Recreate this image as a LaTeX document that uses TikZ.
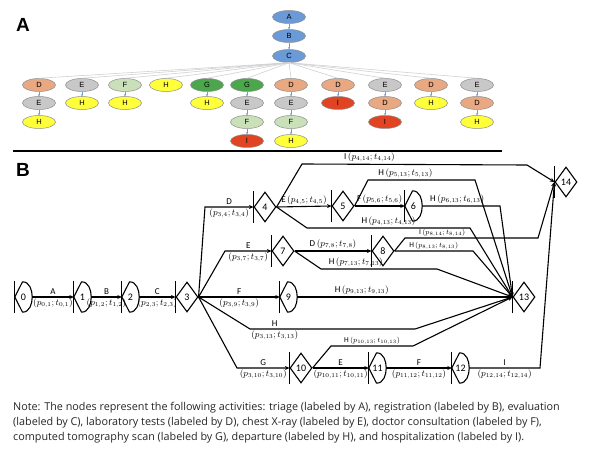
\documentclass[tikz,border=0pt]{standalone}
\usepackage{fontspec}
\setmainfont{Carlito}
\newfontfamily\noteF{Open Sans}
\newfontfamily\headF{Liberation Sans}
\usetikzlibrary{shapes.geometric,arrows.meta}
\definecolor{cblue}{HTML}{6A9BD8}
\definecolor{corange}{HTML}{E8A882}
\definecolor{cgray}{HTML}{C8C8C8}
\definecolor{clgreen}{HTML}{C9E0B8}
\definecolor{cyellow}{HTML}{FFFF3A}
\definecolor{cgreen}{HTML}{4CA64C}
\definecolor{cred}{HTML}{E04422}
\tikzset{
  t/.style={ellipse,draw=black!45,line width=0.5pt,minimum width=33pt,minimum height=13pt,inner sep=0pt,font=\headF\fontsize{7.5}{8}\selectfont},
  tb/.style={t,fill=cblue}, to/.style={t,fill=corange}, tg/.style={t,fill=cgray},
  tl/.style={t,fill=clgreen}, ty/.style={t,fill=cyellow}, tG/.style={t,fill=cgreen},
  tr/.style={t,fill=cred},
  fan/.style={draw=black!18,line width=0.6pt},
  va/.style={draw=cblue,line width=0.4pt,-{Stealth[length=2pt,width=2pt]}},
  dn/.style={diamond,draw,line width=1.1pt,minimum width=22pt,minimum height=30pt,inner sep=0pt,font=\fontsize{10}{11}\selectfont},
  ln/.style={rectangle,minimum width=17pt,minimum height=30pt,inner sep=0pt,font=\fontsize{10}{11}\selectfont},
  ed/.style={line width=1.1pt,-{Stealth[length=4.5pt,width=4pt]}},
  lb/.style={font=\fontsize{9}{10}\selectfont,inner sep=1.5pt},
  sl/.style={font=\fontsize{7.5}{8}\selectfont,inner sep=1pt}
}
\begin{document}
\begin{tikzpicture}[x=1pt,y=-1pt]
\useasboundingbox[fill=white] (0,0) rectangle (600,457);
% ---------- A
\node[font=\headF\bfseries\fontsize{19}{21}\selectfont] (labA) at (23,25) {A};
\node[tb] (A) at (289,17) {A};
\node[tb] (B) at (289,36) {B};
\node[tb] (C) at (289,56) {C};
\draw[va] (A) -- (B); \draw[va] (B) -- (C);
\node[to] (a1) at (39,85) {D}; \node[tg] (a2) at (39,103) {E}; \node[ty] (a3) at (39,122) {H};
\node[tg] (b1) at (82,85) {E}; \node[ty] (b2) at (82,103) {H};
\node[tl] (c1) at (125,85) {F}; \node[ty] (c2) at (125,103) {H};
\node[ty] (d1) at (166,85) {H};
\node[tG] (e1) at (207,85) {G}; \node[ty] (e2) at (207,103) {H};
\node[tG] (f1) at (247,85) {G}; \node[tg] (f2) at (247,103) {E}; \node[tl] (f3) at (247,122) {F}; \node[tr] (f4) at (247,141) {I};
\node[to] (g1) at (291,85) {D}; \node[tg] (g2) at (291,103) {E}; \node[tl] (g3) at (291,122) {F}; \node[ty] (g4) at (291,141) {H};
\node[to] (h1) at (338,85) {D}; \node[tr] (h2) at (338,103) {I};
\node[tg] (i1) at (385,85) {E}; \node[to] (i2) at (385,103) {D}; \node[tr] (i3) at (385,122) {I};
\node[to] (j1) at (431,85) {D}; \node[ty] (j2) at (431,103) {H};
\node[tg] (k1) at (477,85) {E}; \node[to] (k2) at (477,103) {D}; \node[ty] (k3) at (477,122) {H};
\foreach \n in {a1,b1,c1,d1,e1,f1,g1,h1,i1,j1,k1} \draw[fan] (C.south) -- (\n.north);
\foreach \p/\q in {a1/a2,a2/a3,b1/b2,c1/c2,e1/e2,f1/f2,f2/f3,f3/f4,g1/g2,g2/g3,g3/g4,h1/h2,i1/i2,i2/i3,j1/j2,k1/k2,k2/k3} \draw[va] (\p) -- (\q);
\draw[line width=1.2pt] (13,151) -- (502,151);
% ---------- B
\node[font=\headF\bfseries\fontsize{19}{21}\selectfont] (labB) at (23,170) {B};
\node[ln] (n0) at (23.5,297) {0};
\node[ln] (n1) at (82.5,297) {1};
\node[ln] (n2) at (130.5,297) {2};
\node[dn] (n3) at (187,297) {3};
\node[dn] (n4) at (265,207) {4};
\node[dn] (n5) at (343,206) {5};
\node[ln] (n6) at (413.5,206) {6};
\node[dn] (n7) at (283,251) {7};
\node[dn] (n8) at (383,251) {8};
\node[ln] (n9) at (288.5,297) {9};
\node[dn] (n10) at (301,368) {10};
\node[ln] (n11) at (377.5,368) {11};
\node[ln] (n12) at (460.5,368) {12};
\node[dn] (n13) at (524,297) {13};
\node[dn] (n14) at (566,182) {14};
\foreach \n in {n0,n1,n2,n6,n9,n11,n12}
  \draw[line width=1.1pt,line join=round] (\n.west) -- ([xshift=-1pt]\n.north) to[out=0,in=90] (\n.east) to[out=-90,in=0] ([xshift=-1pt]\n.south) -- cycle;
\foreach \n in {n0,n1,n2,n3,n4,n5,n6,n7,n8,n9,n10,n11,n12,n13,n14}
  \draw[line width=1.1pt] ([yshift=-16pt]\n.west) -- ([yshift=16pt]\n.west);
% edges
\draw[ed] (n0.east) -- (n1.west) node[midway,above,lb]{A} node[midway,below,lb]{$(p_{0,1};t_{0,1})$};
\draw[ed] (n1.east) -- (n2.west) node[midway,above,lb]{B} node[midway,below,lb]{$(p_{1,2};t_{1,2})$};
\draw[ed] (n2.east) -- (n3.west) node[midway,above,lb]{C} node[midway,below,lb]{$(p_{2,3};t_{2,3})$};
\draw[ed] (n3.east) -- (205,207) -- (n4.west) node[midway,above,lb]{D} node[midway,below,lb]{$(p_{3,4};t_{3,4})$};
\draw[ed] (n3.east) -- (225,251) -- (n7.west) node[midway,above,lb]{E} node[midway,below,lb]{$(p_{3,7};t_{3,7})$};
\draw[ed] (n3.east) -- (n9.west) node[midway,above,lb]{F} node[midway,below,lb]{$(p_{3,9};t_{3,9})$};
\draw[ed] (n3.east) -- (250,329) -- (415,329) node[pos=0.15,above,lb]{H} node[pos=0.15,below,lb]{$(p_{3,13};t_{3,13})$} -- (n13.west);
\draw[ed] (n3.east) -- (237,368) -- (n10.west) node[midway,above,lb]{G} node[midway,below,lb]{$(p_{3,10};t_{3,10})$};
\draw[ed] (n4.east) -- (302,164) -- (527,165) node[pos=0.3,above,lb]{I\,$(p_{4,14};t_{4,14})$} -- (n14.west);
\draw[ed] (n4.east) -- (n5.west) node[midway,above,lb]{E\,$(p_{4,5};t_{4,5})$};
\draw[ed] (n4.east) -- (307,228) -- (470,228) node[pos=0.5,above,lb]{H\,$(p_{4,13};t_{4,13})$} -- (n13.west);
\draw[ed] (n5.east) -- (n6.west) node[midway,above,lb]{F\,$(p_{5,6};t_{5,6})$};
\draw[ed] (n5.east) -- (368,180) -- (475,180) node[pos=0.35,above,lb]{H\,$(p_{5,13};t_{5,13})$} -- (n13.west);
\draw[ed] (n6.east) -- (500,206) node[pos=0.45,above,lb]{H\,$(p_{6,13};t_{6,13})$} -- (n13.west);
\draw[ed] (n7.east) -- (n8.west) node[midway,above,lb]{D\,$(p_{7,8};t_{7,8})$};
\draw[ed] (n7.east) -- (321,269) -- (437,269) node[pos=0.3,above,lb]{H\,$(p_{7,13};t_{7,13})$} -- (n13.west);
\draw[ed] (n8.east) -- (405,238) -- (538,238) node[pos=0.28,above,sl]{I\,$(p_{8,14};t_{8,14})$} -- (n14.west);
\draw[ed] (n8.east) -- (473,251) node[pos=0.5,above,sl]{H\,$(p_{8,13};t_{8,13})$} -- (n13.west);
\draw[ed] (n9.east) -- (n13.west) node[pos=0.3,above,lb]{H\,$(p_{9,13};t_{9,13})$};
\draw[ed] (n10.east) -- (331,346) -- (413,346) node[pos=0.5,above,sl]{H\,$(p_{10,13};t_{10,13})$} -- (n13.west);
\draw[ed] (n10.east) -- (n11.west) node[midway,above,lb]{E} node[midway,below,lb]{$(p_{10,11};t_{10,11})$};
\draw[ed] (n11.east) -- (n12.west) node[midway,above,lb]{F} node[midway,below,lb]{$(p_{11,12};t_{11,12})$};
\draw[ed] (n12.east) -- (540,368) node[midway,above,lb]{I} node[midway,below,lb]{$(p_{12,14};t_{12,14})$} -- (n14.west);
% note
\begin{scope}[every node/.style={anchor=west,inner sep=0pt,font=\noteF\fontsize{10.8}{12}\selectfont,text=black!85}]
\node (l1) at (13,408) {Note: The nodes represent the following activities: triage (labeled by A), registration (labeled by B), evaluation};
\node (l2) at (13,423) {(labeled by C), laboratory tests (labeled by D), chest X-ray (labeled by E), doctor consultation (labeled by F),};
\node (l3) at (13,438) {computed tomography scan (labeled by G), departure (labeled by H), and hospitalization (labeled by I).};
\end{scope}
\end{tikzpicture}
\end{document}
